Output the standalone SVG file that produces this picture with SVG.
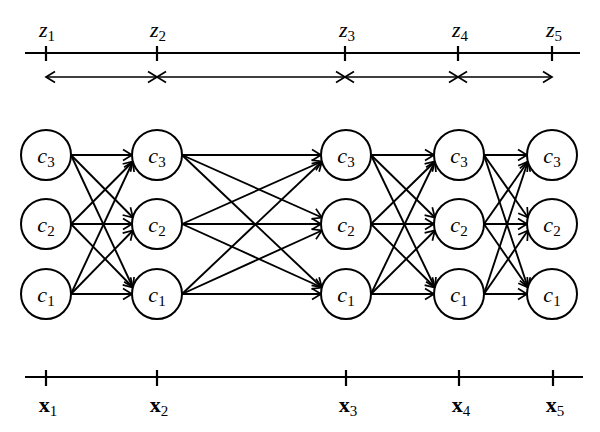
<svg xmlns="http://www.w3.org/2000/svg" width="600" height="432" viewBox="0 0 600 432">
<style>
.ax{stroke:#000;stroke-width:2.2;fill:none}
.tk{stroke:#000;stroke-width:2.2}
.dbl{stroke:#000;stroke-width:1.7;fill:none;marker-start:url(#ah);marker-end:url(#ah)}
.nd circle{fill:#fff;stroke:#000;stroke-width:2}
.lbl{font-family:"Liberation Serif","Times New Roman",serif;font-style:italic;font-size:22px;text-anchor:middle}
.sub{font-style:normal;font-size:15px}
.xl{font-family:"Liberation Serif","Times New Roman",serif;font-weight:bold;font-size:22px;text-anchor:middle}
.xl .sub{font-weight:normal}
#edges path{stroke:#000;stroke-width:1.9;fill:none;marker-end:url(#ah)}
</style>
<defs>
<marker id="ah" viewBox="-11 -7 13 14" markerWidth="13" markerHeight="14" refX="0" refY="0" orient="auto-start-reverse" markerUnits="userSpaceOnUse">
<path d="M-9,-5.5 L0,0 L-9,5.5" fill="none" stroke="#000" stroke-width="1.7"/>
</marker>
</defs>
<g id="z-axis">
<line class="ax" x1="25" y1="53" x2="580" y2="53"/>
<line class="tk" x1="46" y1="46" x2="46" y2="61"/>
<line class="tk" x1="157" y1="46" x2="157" y2="61"/>
<line class="tk" x1="345" y1="46" x2="345" y2="61"/>
<line class="tk" x1="458" y1="46" x2="458" y2="61"/>
<line class="tk" x1="552" y1="46" x2="552" y2="61"/>
<text class="lbl" x="47" y="37">z<tspan class="sub" dy="4">1</tspan></text>
<text class="lbl" x="158" y="37">z<tspan class="sub" dy="4">2</tspan></text>
<text class="lbl" x="347" y="37">z<tspan class="sub" dy="4">3</tspan></text>
<text class="lbl" x="460" y="37">z<tspan class="sub" dy="4">4</tspan></text>
<text class="lbl" x="554" y="37">z<tspan class="sub" dy="4">5</tspan></text>
</g>
<g id="intervals">
<line class="dbl" x1="46" y1="77" x2="157" y2="77"/>
<line class="dbl" x1="157" y1="77" x2="345" y2="77"/>
<line class="dbl" x1="345" y1="77" x2="458" y2="77"/>
<line class="dbl" x1="458" y1="77" x2="552" y2="77"/>
</g>
<g id="edges">
<path d="M71,155L132,155"/><path d="M71,155L132.9,217.5"/><path d="M71,155L132.9,287.5"/>
<path d="M71,224L132.9,161.5"/><path d="M71,224L132,224"/><path d="M71,224L132.9,287.5"/>
<path d="M71,294L132.9,161.5"/><path d="M71,294L132.9,230.5"/><path d="M71,294L132,294"/>
<path d="M182,155L321,155"/><path d="M182,155L321.9,217.5"/><path d="M182,155L321.9,287.5"/>
<path d="M182,224L321.9,161.5"/><path d="M182,224L321,224"/><path d="M182,224L321.9,287.5"/>
<path d="M182,294L321.9,161.5"/><path d="M182,294L321.9,230.5"/><path d="M182,294L321,294"/>
<path d="M371,155L434,155"/><path d="M371,155L434.9,217.5"/><path d="M371,155L434.9,287.5"/>
<path d="M371,224L434.9,161.5"/><path d="M371,224L434,224"/><path d="M371,224L434.9,287.5"/>
<path d="M371,294L434.9,161.5"/><path d="M371,294L434.9,230.5"/><path d="M371,294L434,294"/>
<path d="M484,155L527,155"/><path d="M484,155L527.9,217.5"/><path d="M484,155L527.9,287.5"/>
<path d="M484,224L527.9,161.5"/><path d="M484,224L527,224"/><path d="M484,224L527.9,287.5"/>
<path d="M484,294L527.9,161.5"/><path d="M484,294L527.9,230.5"/><path d="M484,294L527,294"/>
</g>
<g id="n13" class="nd"><circle cx="46" cy="155" r="25"/><text class="lbl" x="46" y="163">c<tspan class="sub" dy="4">3</tspan></text></g>
<g id="n12" class="nd"><circle cx="46" cy="224" r="25"/><text class="lbl" x="46" y="232">c<tspan class="sub" dy="4">2</tspan></text></g>
<g id="n11" class="nd"><circle cx="46" cy="294" r="25"/><text class="lbl" x="46" y="302">c<tspan class="sub" dy="4">1</tspan></text></g>
<g id="n23" class="nd"><circle cx="157" cy="155" r="25"/><text class="lbl" x="157" y="163">c<tspan class="sub" dy="4">3</tspan></text></g>
<g id="n22" class="nd"><circle cx="157" cy="224" r="25"/><text class="lbl" x="157" y="232">c<tspan class="sub" dy="4">2</tspan></text></g>
<g id="n21" class="nd"><circle cx="157" cy="294" r="25"/><text class="lbl" x="157" y="302">c<tspan class="sub" dy="4">1</tspan></text></g>
<g id="n33" class="nd"><circle cx="346" cy="155" r="25"/><text class="lbl" x="346" y="163">c<tspan class="sub" dy="4">3</tspan></text></g>
<g id="n32" class="nd"><circle cx="346" cy="224" r="25"/><text class="lbl" x="346" y="232">c<tspan class="sub" dy="4">2</tspan></text></g>
<g id="n31" class="nd"><circle cx="346" cy="294" r="25"/><text class="lbl" x="346" y="302">c<tspan class="sub" dy="4">1</tspan></text></g>
<g id="n43" class="nd"><circle cx="459" cy="155" r="25"/><text class="lbl" x="459" y="163">c<tspan class="sub" dy="4">3</tspan></text></g>
<g id="n42" class="nd"><circle cx="459" cy="224" r="25"/><text class="lbl" x="459" y="232">c<tspan class="sub" dy="4">2</tspan></text></g>
<g id="n41" class="nd"><circle cx="459" cy="294" r="25"/><text class="lbl" x="459" y="302">c<tspan class="sub" dy="4">1</tspan></text></g>
<g id="n53" class="nd"><circle cx="552" cy="155" r="25"/><text class="lbl" x="552" y="163">c<tspan class="sub" dy="4">3</tspan></text></g>
<g id="n52" class="nd"><circle cx="552" cy="224" r="25"/><text class="lbl" x="552" y="232">c<tspan class="sub" dy="4">2</tspan></text></g>
<g id="n51" class="nd"><circle cx="552" cy="294" r="25"/><text class="lbl" x="552" y="302">c<tspan class="sub" dy="4">1</tspan></text></g>
<g id="x-axis">
<line class="ax" x1="25" y1="377" x2="583" y2="377"/>
<line class="tk" x1="46" y1="370" x2="46" y2="386"/>
<line class="tk" x1="157" y1="370" x2="157" y2="386"/>
<line class="tk" x1="346" y1="370" x2="346" y2="386"/>
<line class="tk" x1="459" y1="370" x2="459" y2="386"/>
<line class="tk" x1="553" y1="370" x2="553" y2="386"/>
<text class="xl" x="48" y="412">x<tspan class="sub" dy="4">1</tspan></text>
<text class="xl" x="159" y="412">x<tspan class="sub" dy="4">2</tspan></text>
<text class="xl" x="348" y="412">x<tspan class="sub" dy="4">3</tspan></text>
<text class="xl" x="461" y="412">x<tspan class="sub" dy="4">4</tspan></text>
<text class="xl" x="555" y="412">x<tspan class="sub" dy="4">5</tspan></text>
</g>
</svg>
